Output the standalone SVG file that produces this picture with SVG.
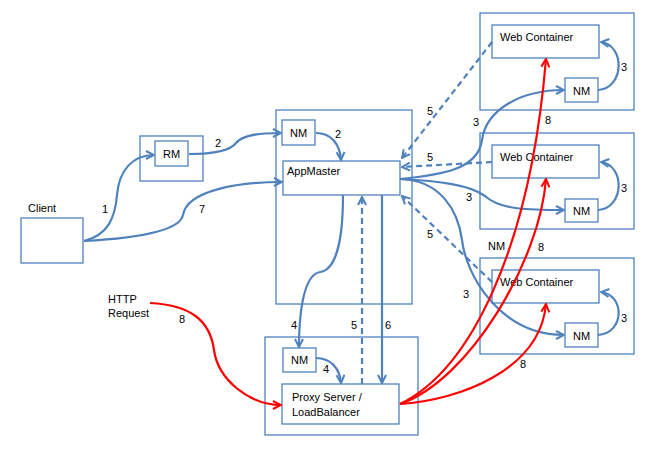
<svg xmlns="http://www.w3.org/2000/svg" width="655" height="459" viewBox="0 0 655 459">
<defs>
<style>
.box{fill:#fff;stroke:#4f81bd;stroke-width:1.3}
.t{font-family:"Liberation Sans",Arial,sans-serif;font-size:11px;fill:#000}
.b{fill:none;stroke:#4f81bd;stroke-width:2.2;marker-end:url(#ab)}
.d{fill:none;stroke:#4f81bd;stroke-width:2.2;stroke-dasharray:6,4;marker-end:url(#ab)}
.r{fill:none;stroke:#ff0000;stroke-width:2.2;marker-end:url(#ar)}
</style>
<marker id="ab" viewBox="0 0 10 10" refX="9" refY="5" markerWidth="10" markerHeight="10" markerUnits="userSpaceOnUse" orient="auto">
<path d="M1,1 L9,5 L1,9" fill="none" stroke="#4f81bd" stroke-width="2"/>
</marker>
<marker id="ar" viewBox="0 0 10 10" refX="9" refY="5" markerWidth="10" markerHeight="10" markerUnits="userSpaceOnUse" orient="auto">
<path d="M1,1 L9,5 L1,9" fill="none" stroke="#ff0000" stroke-width="2"/>
</marker>
</defs>
<rect width="655" height="459" fill="#fff"/>

<g id="client"><rect class="box" x="21" y="218" width="62" height="45"/><text class="t" x="28" y="212">Client</text></g>
<g id="rm-host"><rect class="box" x="140" y="136" width="63" height="45"/></g>
<g id="rm"><rect class="box" x="155" y="141" width="33" height="25"/><text class="t" x="171.5" y="158" text-anchor="middle">RM</text></g>
<g id="am-host"><rect class="box" x="276" y="110" width="136" height="194"/></g>
<g id="am-nm"><rect class="box" x="282" y="120" width="33" height="25"/><text class="t" x="298.5" y="137" text-anchor="middle">NM</text></g>
<g id="appmaster"><rect class="box" x="283" y="161" width="117" height="34"/><text class="t" x="287" y="175">AppMaster</text></g>

<g id="wc-host-1"><rect class="box" x="480" y="13" width="154" height="97"/></g>
<g id="wc1"><rect class="box" x="492" y="25" width="107" height="33"/><text class="t" x="500" y="41">Web Container</text></g>
<g id="nm1"><rect class="box" x="565" y="78" width="33" height="24"/><text class="t" x="581.5" y="95" text-anchor="middle">NM</text></g>

<g id="wc-host-2"><rect class="box" x="480" y="133" width="154" height="96"/></g>
<g id="wc2"><rect class="box" x="492" y="145" width="107" height="33"/><text class="t" x="500" y="161">Web Container</text></g>
<g id="nm2"><rect class="box" x="565" y="199" width="33" height="23"/><text class="t" x="581.5" y="215" text-anchor="middle">NM</text></g>

<g id="wc-host-3"><rect class="box" x="480" y="258" width="154" height="96"/><text class="t" x="488" y="250">NM</text></g>
<g id="wc3"><rect class="box" x="492" y="270" width="107" height="33"/><text class="t" x="500" y="286">Web Container</text></g>
<g id="nm3"><rect class="box" x="565" y="323" width="33" height="24"/><text class="t" x="581.5" y="340" text-anchor="middle">NM</text></g>

<g id="proxy-host"><rect class="box" x="265" y="337" width="153" height="98"/></g>
<g id="proxy-nm"><rect class="box" x="283" y="348" width="33" height="24"/><text class="t" x="299.5" y="364" text-anchor="middle">NM</text></g>
<g id="proxy"><rect class="box" x="282" y="384" width="117" height="40"/><text class="t" x="292" y="401">Proxy Server /</text><text class="t" x="292" y="416">LoadBalancer</text></g>

<g id="http"><text class="t" x="108" y="303">HTTP</text><text class="t" x="108" y="317">Request</text></g>

<g id="connectors">
<path class="b" d="M84,241 C108,235 115,218 117,195 C119,170 133,155 154,155"/>
<path class="b" d="M189,154 C215,154 230,151 236,143 C242,135 258,133 281,133"/>
<path class="b" d="M84,241 C140,238 180,230 183,215 C187,190 240,182 282,182"/>
<path class="b" d="M316,133 C330,133 340,143 341,160"/>
<path class="b" d="M400,179 C440,175 478,170 482,140 C486,110 520,90 564,90"/>
<path class="b" d="M400,179 C440,181 470,185 485,196 C500,210 530,210 564,210"/>
<path class="b" d="M400,179 C440,180 458,210 462,240 C466,275 500,335 564,335"/>
<path class="b" d="M598,90 C625,88 625,45 601,42"/>
<path class="b" d="M598,210 C625,208 625,165 601,162"/>
<path class="b" d="M598,335 C625,333 625,295 601,292"/>
<path class="d" d="M492,42 L402,158"/>
<path class="d" d="M492,162 L402,167"/>
<path class="d" d="M492,282 L402,196"/>
<path class="d" d="M362,384 L362,197"/>
<path class="b" d="M343,195 C343,240 336,270 320,272 C302,275 299,320 299,347"/>
<path class="b" d="M316,358 C330,358 340,368 341,383"/>
<path class="b" d="M382,195 L382,383"/>
<path class="r" d="M150,303 C190,305 210,320 214,350 C218,380 250,405 281,405"/>
<path class="r" d="M400,404 C470,370 530,250 546,59"/>
<path class="r" d="M400,404 C470,380 540,260 546,179"/>
<path class="r" d="M400,404 C460,400 540,370 546,304"/>
<text class="t" x="102" y="213">1</text>
<text class="t" x="215" y="147">2</text>
<text class="t" x="335" y="138">2</text>
<text class="t" x="199" y="213">7</text>
<text class="t" x="473" y="126">3</text>
<text class="t" x="466" y="201">3</text>
<text class="t" x="463" y="298">3</text>
<text class="t" x="621" y="71">3</text>
<text class="t" x="621" y="192">3</text>
<text class="t" x="621" y="322">3</text>
<text class="t" x="427" y="115">5</text>
<text class="t" x="427" y="161">5</text>
<text class="t" x="427" y="238">5</text>
<text class="t" x="351" y="329">5</text>
<text class="t" x="291" y="329">4</text>
<text class="t" x="323" y="373">4</text>
<text class="t" x="385" y="329">6</text>
<text class="t" x="179" y="323">8</text>
<text class="t" x="545" y="124">8</text>
<text class="t" x="538" y="251">8</text>
<text class="t" x="520" y="368">8</text>
</g>
</svg>
